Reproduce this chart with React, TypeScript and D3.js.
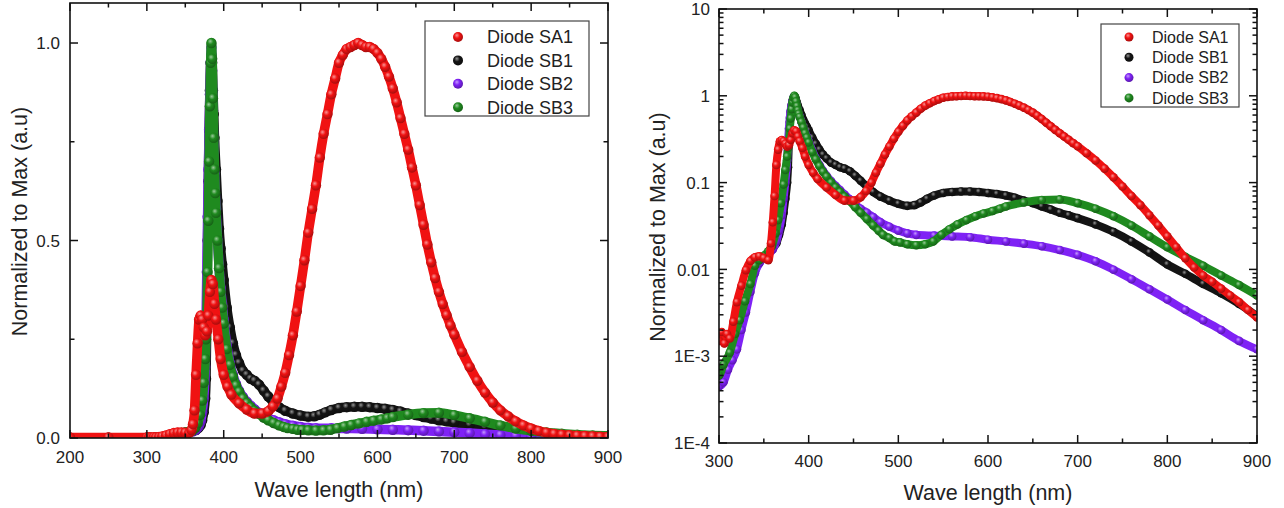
import React from 'react';
import * as d3 from 'd3';

type Pt = [number, number];

const SERIES_NAMES = ['Diode SA1', 'Diode SB1', 'Diode SB2', 'Diode SB3'];
const SERIES_COLORS = ['#f01212', '#141414', '#7f22f5', '#1f8a1f'];

const SA1: Pt[] = [
  [200, 0.0012], [250, 0.0012], [300, 0.0015], [303, 0.0019], [306, 0.0014], [309, 0.0018], [312, 0.0016],
  [316, 0.0025], [320, 0.0042], [325, 0.0065], [330, 0.0098], [335, 0.0125], [340, 0.0138], [345, 0.0142],
  [350, 0.0135], [355, 0.0128], [358, 0.02], [360, 0.035], [362, 0.07], [364, 0.16], [366, 0.24], [368, 0.3],
  [370, 0.31], [372, 0.3], [374, 0.28], [376, 0.26], [378, 0.27], [380, 0.31], [382, 0.37], [384, 0.4],
  [386, 0.39], [388, 0.34], [390, 0.3], [393, 0.25], [396, 0.2], [400, 0.16], [405, 0.13], [410, 0.11],
  [420, 0.088], [430, 0.072], [440, 0.062], [450, 0.062], [458, 0.068], [464, 0.08], [470, 0.1], [475, 0.13],
  [480, 0.165], [485, 0.21], [490, 0.26], [495, 0.32], [500, 0.385], [505, 0.45], [510, 0.52], [515, 0.58],
  [520, 0.64], [525, 0.71], [530, 0.77], [535, 0.82], [540, 0.87], [545, 0.91], [550, 0.95], [555, 0.97],
  [560, 0.985], [565, 0.99], [570, 0.995], [575, 1.0], [580, 0.995], [585, 0.99], [590, 0.99], [595, 0.985],
  [600, 0.975], [605, 0.96], [610, 0.94], [615, 0.915], [620, 0.885], [625, 0.85], [630, 0.81], [635, 0.77],
  [640, 0.73], [645, 0.685], [650, 0.64], [655, 0.59], [660, 0.54], [665, 0.49], [670, 0.445], [675, 0.405],
  [680, 0.37], [685, 0.339], [690, 0.311], [695, 0.285], [700, 0.262], [710, 0.218], [720, 0.18], [730, 0.145],
  [740, 0.115], [750, 0.09], [760, 0.07], [770, 0.055], [780, 0.042], [790, 0.032], [800, 0.024],
  [810, 0.018], [820, 0.0135], [830, 0.0105], [840, 0.0085], [850, 0.0072], [860, 0.006], [870, 0.005],
  [880, 0.0042], [890, 0.0034], [900, 0.0028],
];

const SB1: Pt[] = [
  [200, 0.0006], [250, 0.0006], [300, 0.0006], [310, 0.0009], [320, 0.0016], [330, 0.004], [340, 0.0095],
  [345, 0.012], [350, 0.0138], [355, 0.0155], [360, 0.0175], [364, 0.02], [367, 0.025], [370, 0.033],
  [372, 0.045], [374, 0.065], [376, 0.1], [377, 0.15], [378, 0.3], [379, 0.5], [380, 0.65], [381, 0.78],
  [382, 0.88], [383, 0.95], [384, 0.97], [385, 0.95], [386, 0.88], [387, 0.82], [388, 0.76], [390, 0.68],
  [392, 0.6], [394, 0.53], [396, 0.48], [398, 0.44], [400, 0.4], [404, 0.33], [408, 0.28], [412, 0.24],
  [416, 0.21], [420, 0.19], [425, 0.17], [430, 0.16], [435, 0.15], [440, 0.145], [446, 0.135], [452, 0.12],
  [458, 0.105], [465, 0.09], [472, 0.078], [480, 0.069], [490, 0.062], [500, 0.057], [510, 0.054],
  [518, 0.055], [525, 0.059], [532, 0.065], [540, 0.071], [550, 0.076], [560, 0.078], [570, 0.079],
  [580, 0.079], [590, 0.078], [600, 0.076], [610, 0.074], [620, 0.071], [630, 0.067], [640, 0.062],
  [650, 0.058], [660, 0.053], [670, 0.049], [680, 0.045], [690, 0.042], [700, 0.039], [720, 0.033],
  [740, 0.027], [760, 0.021], [780, 0.0157], [800, 0.0114], [820, 0.0089], [840, 0.0068], [860, 0.0053],
  [880, 0.004], [900, 0.0029],
];

const SB2: Pt[] = [
  [200, 0.0005], [250, 0.0005], [300, 0.00045], [305, 0.0005], [310, 0.0007], [315, 0.0009], [320, 0.0012],
  [325, 0.002], [330, 0.0032], [335, 0.0055], [340, 0.009], [345, 0.0118], [350, 0.0135], [355, 0.015],
  [360, 0.017], [364, 0.021], [367, 0.028], [370, 0.042], [372, 0.065], [374, 0.1], [376, 0.18], [377, 0.3],
  [378, 0.42], [379, 0.56], [380, 0.68], [381, 0.78], [382, 0.87], [383, 0.95], [384, 0.99], [385, 0.93],
  [386, 0.83], [387, 0.74], [388, 0.67], [390, 0.58], [392, 0.5], [394, 0.43], [396, 0.38], [398, 0.34],
  [400, 0.3], [404, 0.235], [408, 0.19], [412, 0.16], [416, 0.137], [420, 0.12], [425, 0.104], [430, 0.092],
  [435, 0.082], [440, 0.073], [446, 0.064], [452, 0.056], [458, 0.05], [465, 0.045], [472, 0.04],
  [480, 0.035], [490, 0.031], [500, 0.028], [510, 0.026], [520, 0.025], [540, 0.0245], [560, 0.024],
  [580, 0.0235], [600, 0.022], [620, 0.021], [640, 0.0198], [660, 0.0185], [680, 0.0167], [700, 0.0147],
  [720, 0.0124], [740, 0.0099], [760, 0.0077], [780, 0.0059], [800, 0.0045], [820, 0.0034], [840, 0.0026],
  [860, 0.002], [880, 0.0015], [900, 0.0012],
];

const SB3: Pt[] = [
  [200, 0.0008], [250, 0.0007], [300, 0.0006], [305, 0.0008], [312, 0.0011], [318, 0.0018], [323, 0.0026],
  [329, 0.0043], [335, 0.0068], [340, 0.011], [345, 0.0128], [350, 0.0143], [355, 0.0162], [359, 0.0185],
  [363, 0.026], [366, 0.037], [369, 0.058], [372, 0.095], [374, 0.14], [376, 0.2], [377, 0.25], [378, 0.3],
  [379, 0.42], [380, 0.55], [381, 0.7], [382, 0.84], [383, 0.95], [384, 1.0], [385, 0.96], [386, 0.86],
  [387, 0.76], [388, 0.68], [389, 0.62], [390, 0.57], [392, 0.5], [394, 0.43], [396, 0.37], [398, 0.33],
  [400, 0.29], [404, 0.225], [408, 0.185], [412, 0.155], [416, 0.133], [420, 0.117], [425, 0.1], [430, 0.088],
  [435, 0.078], [440, 0.069], [446, 0.061], [452, 0.052], [458, 0.045], [465, 0.038], [472, 0.032],
  [478, 0.028], [483, 0.025], [490, 0.023], [496, 0.021], [502, 0.0205], [510, 0.0195], [520, 0.019],
  [530, 0.0195], [539, 0.021], [548, 0.025], [557, 0.029], [566, 0.033], [576, 0.037], [586, 0.041],
  [595, 0.044], [605, 0.047], [613, 0.05], [620, 0.053], [640, 0.059], [660, 0.063], [680, 0.064],
  [700, 0.058], [720, 0.05], [740, 0.041], [760, 0.032], [780, 0.024], [800, 0.018], [820, 0.014],
  [840, 0.011], [860, 0.0085], [880, 0.0066], [900, 0.005],
];

const SERIES: Pt[][] = [SA1, SB1, SB2, SB3];
const DRAW_ORDER = [1, 2, 3, 0];

const LIN_X_TICKS = [200, 300, 400, 500, 600, 700, 800, 900];
const LIN_X_MINOR = [250, 350, 450, 550, 650, 750, 850];
const LIN_Y_TICKS = [0, 0.5, 1.0];
const LIN_Y_LABELS = ['0.0', '0.5', '1.0'];
const LIN_Y_MINOR = [0.25, 0.75];

const LOG_X_TICKS = [300, 400, 500, 600, 700, 800, 900];
const LOG_X_MINOR = [350, 450, 550, 650, 750, 850];
const LOG_Y_TICKS = [1e-4, 1e-3, 0.01, 0.1, 1, 10];
const LOG_Y_LABELS = ['1E-4', '1E-3', '0.01', '0.1', '1', '10'];

const X_TITLE = 'Wave length (nm)';
const Y_TITLE = 'Normalized to Max (a.u)';

const FONT = 'Arial, "Liberation Sans", Helvetica, sans-serif';

function mix(c: string, t: string, k: number) {
  return d3.interpolateRgb(c, t)(k);
}

type PanelProps = {
  id: string;
  x: d3.ScaleLinear<number, number>;
  y: any;
  box: { x0: number; x1: number; y0: number; y1: number };
  xTicks: number[];
  xMinor: number[];
  yTicks: number[];
  yLabels: string[];
  yMinor: number[];
  bandW: number;
  r: number;
  xLabelY: number;
  yLabelX: number;
  xTitleY: number;
  yTitleX: number;
  legend: { x: number; y: number; w: number; h: number; mx: number; tx: number; y0: number; dy: number; fs: number; mr: number };
};

function Panel(p: PanelProps) {
  const { x, y, box } = p;
  const line = d3
    .line<Pt>()
    .x((d) => x(d[0]))
    .y((d) => y(d[1]))
    .curve(d3.curveMonotoneX);
  const major = 8;
  const minor = 4.5;
  const tickStroke = '#111';
  return (
    <g>
      <defs>
        <clipPath id={`clip-${p.id}`}>
          <rect x={box.x0} y={box.y0} width={box.x1 - box.x0} height={box.y1 - box.y0} />
        </clipPath>
      </defs>
      <g clipPath={`url(#clip-${p.id})`}>
        {DRAW_ORDER.map((si) => (
          <g key={si}>
            <path d={line(SERIES[si]) || ''} fill="none" stroke={SERIES_COLORS[si]} strokeWidth={p.bandW} strokeLinejoin="round" strokeLinecap="round" />
            {SERIES[si].map((d, i) => (
              <circle key={i} cx={x(d[0])} cy={y(d[1])} r={p.r} fill={`url(#grad-${si})`} />
            ))}
          </g>
        ))}
      </g>
      <rect x={box.x0} y={box.y0} width={box.x1 - box.x0} height={box.y1 - box.y0} fill="none" stroke="#111" strokeWidth={1.6} />
      {p.xTicks.map((t) => (
        <g key={`xt${t}`}>
          <line x1={x(t)} x2={x(t)} y1={box.y1} y2={box.y1 - major} stroke={tickStroke} strokeWidth={1.5} />
          <line x1={x(t)} x2={x(t)} y1={box.y0} y2={box.y0 + major} stroke={tickStroke} strokeWidth={1.5} />
          <text x={x(t)} y={p.xLabelY} textAnchor="middle" fontSize={17} fontFamily={FONT} fill="#222">
            {t}
          </text>
        </g>
      ))}
      {p.xMinor.map((t) => (
        <g key={`xm${t}`}>
          <line x1={x(t)} x2={x(t)} y1={box.y1} y2={box.y1 - minor} stroke={tickStroke} strokeWidth={1.5} />
          <line x1={x(t)} x2={x(t)} y1={box.y0} y2={box.y0 + minor} stroke={tickStroke} strokeWidth={1.5} />
        </g>
      ))}
      {p.yTicks.map((t, i) => (
        <g key={`yt${t}`}>
          <line x1={box.x0} x2={box.x0 + major} y1={y(t)} y2={y(t)} stroke={tickStroke} strokeWidth={1.5} />
          <line x1={box.x1} x2={box.x1 - major} y1={y(t)} y2={y(t)} stroke={tickStroke} strokeWidth={1.5} />
          <text x={p.yLabelX} y={y(t)} dy="0.36em" textAnchor="end" fontSize={17} fontFamily={FONT} fill="#222">
            {p.yLabels[i]}
          </text>
        </g>
      ))}
      {p.yMinor.map((t) => (
        <g key={`ym${t}`}>
          <line x1={box.x0} x2={box.x0 + minor} y1={y(t)} y2={y(t)} stroke={tickStroke} strokeWidth={1.5} />
          <line x1={box.x1} x2={box.x1 - minor} y1={y(t)} y2={y(t)} stroke={tickStroke} strokeWidth={1.5} />
        </g>
      ))}
      <text x={(box.x0 + box.x1) / 2} y={p.xTitleY} textAnchor="middle" fontSize={21.5} fontFamily={FONT} fill="#222">
        {X_TITLE}
      </text>
      <text
        transform={`translate(${p.yTitleX},${(box.y0 + box.y1) / 2 + 1}) rotate(-90)`}
        textAnchor="middle"
        fontSize={21.5}
        fontFamily={FONT}
        fill="#222"
      >
        {Y_TITLE}
      </text>
      <rect x={p.legend.x} y={p.legend.y} width={p.legend.w} height={p.legend.h} fill="#fff" stroke="#444" strokeWidth={1.2} />
      {SERIES_NAMES.map((n, i) => (
        <g key={n}>
          <circle cx={p.legend.mx} cy={p.legend.y0 + i * p.legend.dy} r={p.legend.mr} fill={`url(#grad-${i})`} />
          <text x={p.legend.tx} y={p.legend.y0 + i * p.legend.dy} dy="0.36em" fontSize={p.legend.fs} fontFamily={FONT} fill="#222">
            {n}
          </text>
        </g>
      ))}
    </g>
  );
}

export default function App() {
  const boxL = { x0: 70, x1: 608, y0: 3, y1: 438 };
  const xL = d3.scaleLinear().domain([200, 900]).range([boxL.x0, boxL.x1]);
  const yL = d3.scaleLinear().domain([0, 1.1013]).range([boxL.y1, boxL.y0]);

  const boxR = { x0: 719, x1: 1257, y0: 9, y1: 443 };
  const xR = d3.scaleLinear().domain([300, 900]).range([boxR.x0, boxR.x1]);
  const yR = d3.scaleLog().domain([1e-4, 10]).range([boxR.y1, boxR.y0]);
  const logMinor: number[] = [];
  for (let e = -4; e <= 0; e++) for (let m = 2; m <= 9; m++) logMinor.push(m * Math.pow(10, e));

  return (
    <svg width={1284} height={508} style={{ position: 'absolute', left: 0, top: 0, background: '#fff' }}>
      <defs>
        {SERIES_COLORS.map((c, i) => (
          <radialGradient key={i} id={`grad-${i}`} cx="0.42" cy="0.38" r="0.62" fx="0.38" fy="0.32">
            <stop offset="0%" stopColor={mix(c, '#ffffff', 0.55)} />
            <stop offset="45%" stopColor={c} />
            <stop offset="100%" stopColor={mix(c, '#000000', 0.3)} />
          </radialGradient>
        ))}
      </defs>
      <rect x={0} y={0} width={1284} height={508} fill="#fff" />
      <Panel
        id="lin"
        x={xL}
        y={yL}
        box={boxL}
        xTicks={LIN_X_TICKS}
        xMinor={LIN_X_MINOR}
        yTicks={LIN_Y_TICKS}
        yLabels={LIN_Y_LABELS}
        yMinor={LIN_Y_MINOR}
        bandW={9.5}
        r={5.2}
        xLabelY={463}
        yLabelX={60}
        xTitleY={497}
        yTitleX={27}
        legend={{ x: 425, y: 21, w: 164, h: 95, mx: 458, tx: 487, y0: 37, dy: 23.4, fs: 18, mr: 5 }}
      />
      <Panel
        id="log"
        x={xR}
        y={yR}
        box={boxR}
        xTicks={LOG_X_TICKS}
        xMinor={LOG_X_MINOR}
        yTicks={LOG_Y_TICKS}
        yLabels={LOG_Y_LABELS}
        yMinor={logMinor}
        bandW={8}
        r={4.3}
        xLabelY={467}
        yLabelX={710}
        xTitleY={500}
        yTitleX={665}
        legend={{ x: 1101, y: 24, w: 138, h: 83, mx: 1129, tx: 1152, y0: 37, dy: 20.3, fs: 16, mr: 4.5 }}
      />
    </svg>
  );
}
